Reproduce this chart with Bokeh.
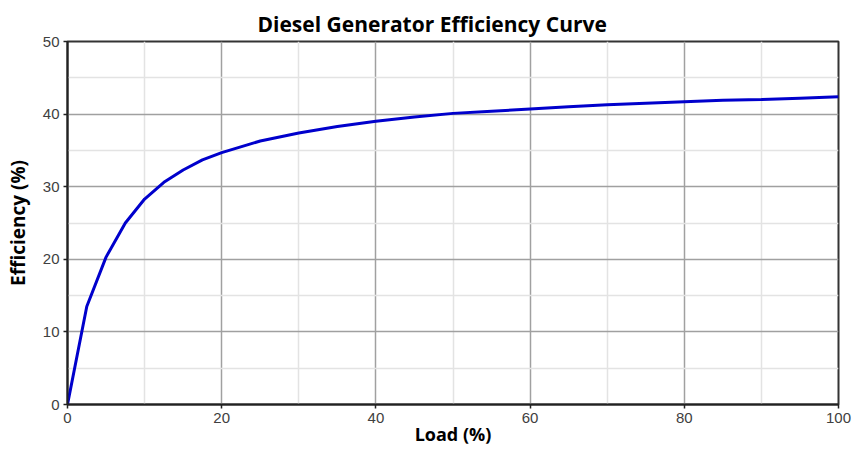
from bokeh.plotting import figure
from bokeh.models import Range1d, FixedTicker
from bokeh.embed import file_html
from bokeh.resources import INLINE

# Data
load = [0, 2.5, 5, 7.5, 10, 12.5, 15, 17.5, 20, 25, 30, 35, 40, 45, 50,
        55, 60, 65, 70, 75, 80, 85, 90, 95, 100]
efficiency = [0, 13.5, 20.3, 25.0, 28.3, 30.6, 32.3, 33.7, 34.7, 36.3, 37.4,
              38.3, 39.0, 39.6, 40.1, 40.4, 40.7, 41.0, 41.3, 41.5, 41.7,
              41.9, 42.0, 42.2, 42.4]
x_ticks = [0, 20, 40, 60, 80, 100]
x_minor = [10, 30, 50, 70, 90]
y_ticks = [0, 10, 20, 30, 40, 50]
y_minor = [5, 15, 25, 35, 45]

p = figure(width=865, height=449, output_backend="svg", toolbar_location=None,
           x_range=Range1d(0, 100), y_range=Range1d(0, 50),
           min_border_left=67, min_border_right=27, min_border_top=41,
           min_border_bottom=45)

p.title.text = "Diesel Generator Efficiency Curve"
p.title.align = "left"
p.title.offset = 190
p.title.vertical_align = "top"
p.title.text_font = "Open Sans"
p.title.text_font_style = "bold"
p.title.text_font_size = "21px"
p.title.text_color = "#000000"
p.title.standoff = 4

p.xaxis.ticker = FixedTicker(ticks=x_ticks, minor_ticks=x_minor)
p.yaxis.ticker = FixedTicker(ticks=y_ticks, minor_ticks=y_minor)

for g in (p.xgrid, p.ygrid):
    g.grid_line_color = "#a0a0a0"
    g.grid_line_width = 1.5
    g.minor_grid_line_color = "#e3e3e3"
    g.minor_grid_line_width = 1.5

for ax in (p.xaxis, p.yaxis):
    ax.axis_line_color = "#222222"
    ax.axis_line_width = 2
    ax.major_tick_line_color = "#222222"
    ax.major_tick_line_width = 1.5
    ax.major_tick_out = 4
    ax.major_tick_in = 0
    ax.minor_tick_line_color = None
    ax.major_label_text_font = "Liberation Sans"
    ax.major_label_text_font_size = "15px"
    ax.major_label_text_color = "#404040"
    ax.major_label_standoff = 4
    ax.axis_label_text_font = "Open Sans"
    ax.axis_label_text_font_style = "bold"
    ax.axis_label_text_font_size = "18px"
    ax.axis_label_text_color = "#000000"

p.xaxis.axis_label = "Load (%)"
p.yaxis.axis_label = "Efficiency (%)"
p.yaxis.axis_label_text_font_size = "19px"
p.xaxis.axis_label_standoff = -4
p.yaxis.axis_label_standoff = 9

p.outline_line_color = "#333333"
p.outline_line_width = 2
p.background_fill_color = "white"
p.border_fill_color = "white"

p.line(load, efficiency, line_color="#0000cc", line_width=3)

open("out.html", "w").write(file_html(p, INLINE))
